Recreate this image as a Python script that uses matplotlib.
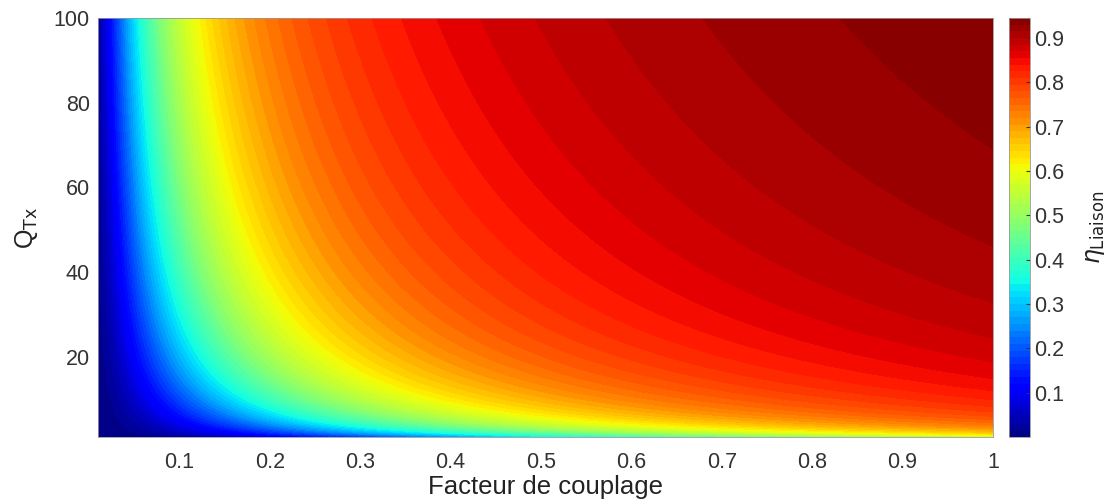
#link efficiency map: optimal-load efficiency of an inductive link vs coupling factor and Q of the Tx coil.
#eta = k^2*Qtx*Qrx / (1 + sqrt(1 + k^2*Qtx*Qrx))^2, with Qrx fixed.
import numpy as np
import matplotlib
matplotlib.use("Agg")
import matplotlib.pyplot as plt

plt.rcParams["font.family"] = ["Liberation Sans", "DejaVu Sans"]

#axis ranges
K_RANGE = [0.01, 1.0]       #facteur de couplage
QTX_RANGE = [1, 100]        #Q of the transmitter coil
QRX = 11.0                  #receiver Q (estimated from the colour at k=1, Qtx=100)
N_LEVELS = 90               #filled contour levels

x_ticks = [0.1, 0.2, 0.3, 0.4, 0.5, 0.6, 0.7, 0.8, 0.9, 1]
x_ticklabels = ["0.1", "0.2", "0.3", "0.4", "0.5", "0.6", "0.7", "0.8", "0.9", "1"]
y_ticks = [20, 40, 60, 80, 100]
cb_ticks = [0.1, 0.2, 0.3, 0.4, 0.5, 0.6, 0.7, 0.8, 0.9]


def link_efficiency(k, qtx, qrx):
    x = k ** 2 * qtx * qrx
    return x / (1 + np.sqrt(1 + x)) ** 2


k = np.linspace(K_RANGE[0], K_RANGE[1], 400)
q = np.linspace(QTX_RANGE[0], QTX_RANGE[1], 400)
K, Q = np.meshgrid(k, q)
eta = link_efficiency(K, Q, QRX)

fig = plt.figure(figsize=(11.18, 5.04), dpi=100)
ax = fig.add_axes([0.0877, 0.133, 0.8005, 0.831])
cax = fig.add_axes([0.9025, 0.133, 0.0188, 0.831])

cs = ax.contourf(K, Q, eta, levels=N_LEVELS, cmap="jet")
ax.set_xlim(K_RANGE)
ax.set_ylim(QTX_RANGE)
ax.set_xticks(x_ticks)
ax.set_xticklabels(x_ticklabels)
ax.set_yticks(y_ticks)
ax.tick_params(labelsize=15.5, colors="#333333", length=0)
ax.tick_params(axis="x", pad=11)
ax.tick_params(axis="y", pad=6)
for s in ax.spines.values():
    s.set_color("#999999")
    s.set_linewidth(0.6)
ax.set_xlabel("Facteur de couplage", fontsize=18.5, color="#222222", labelpad=1)
ax.set_ylabel(r"Q$_{\mathrm{Tx}}$", fontsize=18, color="#222222", labelpad=10)

cb = fig.colorbar(cs, cax=cax)
cb.set_ticks(cb_ticks)
cb.ax.tick_params(labelsize=15.5, colors="#333333", direction="in", length=3, pad=3)
cb.outline.set_linewidth(0.6)
cb.outline.set_edgecolor("#999999")
cb.set_label(r"$\eta_{\mathrm{Liaison}}$", fontsize=17, color="#222222", labelpad=14)

plt.savefig("out.png", dpi=100)
plt.close()
